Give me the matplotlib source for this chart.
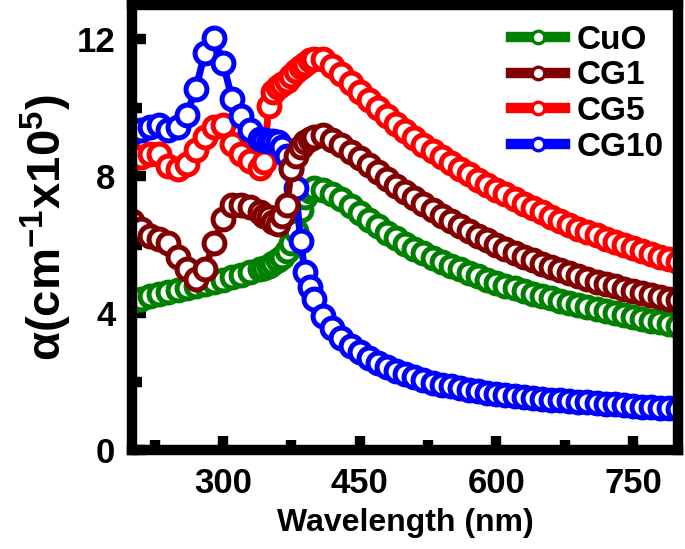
import matplotlib
matplotlib.use("Agg")
import matplotlib.pyplot as plt
from matplotlib.lines import Line2D
from matplotlib.ticker import MultipleLocator

plt.rcParams['font.family'] = ['Liberation Sans', 'DejaVu Sans']
plt.rcParams['font.weight'] = 'bold'
plt.rcParams['mathtext.fontset'] = 'custom'
plt.rcParams['mathtext.rm'] = 'Liberation Sans:bold'
plt.rcParams['mathtext.it'] = 'Liberation Sans:bold'
plt.rcParams['mathtext.bf'] = 'Liberation Sans:bold'

# Data
wavelength = [200, 210, 220, 230, 240, 250, 260, 270, 280, 290, 300, 310, 320, 330, 340,
              345, 350, 355, 360, 365, 370, 375, 380, 385, 390, 395, 400,
              410, 420, 430, 440, 450, 460, 470, 480, 490, 500, 510, 520, 530, 540,
              550, 560, 570, 580, 590, 600, 610, 620, 630, 640, 650, 660, 670, 680,
              690, 700, 710, 720, 730, 740, 750, 760, 770, 780, 790, 800]

cuo = [4.35, 4.42, 4.5, 4.57, 4.63, 4.68, 4.73, 4.79, 4.85, 4.92, 4.98, 5.05, 5.12, 5.2, 5.28,
       5.33, 5.38, 5.46, 5.55, 5.65, 5.82, 6.05, 6.4, 7.0, 7.4, 7.58, 7.65,
       7.6, 7.48, 7.32, 7.13, 6.93, 6.73, 6.53, 6.35, 6.18, 6.02, 5.88, 5.75, 5.62, 5.5,
       5.39, 5.28, 5.18, 5.08, 4.98, 4.89, 4.8, 4.72, 4.64, 4.57, 4.5, 4.43, 4.36, 4.29,
       4.23, 4.17, 4.11, 4.05, 4.0, 3.94, 3.89, 3.83, 3.78, 3.73, 3.68, 3.63]

cg1 = [6.7, 6.45, 6.25, 6.15, 6.05, 5.65, 5.3, 5.0, 5.3, 6.05, 6.75, 7.15, 7.15, 7.1, 6.95,
       6.85, 6.8, 6.65, 6.6, 6.85, 7.15, 8.2, 8.6, 8.85, 9.0, 9.1, 9.15,
       9.2, 9.05, 8.9, 8.72, 8.53, 8.33, 8.12, 7.92, 7.72, 7.53, 7.35, 7.18, 7.01, 6.85,
       6.69, 6.54, 6.4, 6.26, 6.13, 6.0, 5.88, 5.76, 5.65, 5.54, 5.44, 5.34, 5.25, 5.16,
       5.07, 4.99, 4.92, 4.85, 4.78, 4.71, 4.65, 4.59, 4.53, 4.47, 4.42, 4.37]

cg5 = [8.5, 8.55, 8.65, 8.65, 8.3, 8.2, 8.35, 8.75, 9.15, 9.45, 9.5, 8.95, 8.65, 8.45, 8.25,
       8.4, 10.05, 10.45, 10.6, 10.7, 10.78, 10.92, 11.08, 11.18, 11.28, 11.38, 11.43,
       11.43, 11.22, 10.97, 10.72, 10.47, 10.22, 9.98, 9.75, 9.53, 9.32, 9.12, 8.92, 8.74, 8.56,
       8.39, 8.22, 8.06, 7.9, 7.75, 7.61, 7.47, 7.33, 7.19, 7.06, 6.94, 6.82, 6.7, 6.58,
       6.47, 6.37, 6.27, 6.17, 6.07, 5.98, 5.89, 5.81, 5.73, 5.65, 5.57, 5.49]

cg10 = [9.25, 9.35, 9.45, 9.5, 9.35, 9.45, 9.8, 10.55, 11.6, 12.05, 11.3, 10.25, 9.75, 9.35, 9.1,
        9.05, 9.02, 9.02, 9.0, 8.85, 8.6, 8.25, 7.65, 6.1, 5.2, 4.75, 4.42,
        3.92, 3.56, 3.28, 3.05, 2.85, 2.69, 2.54, 2.42, 2.31, 2.21, 2.12, 2.04, 1.97, 1.91,
        1.86, 1.81, 1.76, 1.72, 1.68, 1.64, 1.61, 1.58, 1.55, 1.52, 1.5, 1.47, 1.45, 1.43,
        1.41, 1.39, 1.37, 1.35, 1.33, 1.31, 1.29, 1.27, 1.26, 1.24, 1.22, 1.21]

labels = ['CuO', 'CG1', 'CG5', 'CG10']
colors = ['#008000', '#800000', '#ff0000', '#0000ff']
zorders = [2, 5, 3, 4]

fig = plt.figure(figsize=(6.85, 5.49), dpi=100)
ax = fig.add_axes([0.1927, 0.1803, 0.7978, 0.8106])

for series, lab, col, z in zip([cuo, cg1, cg5, cg10], labels, colors, zorders):
    ax.plot(wavelength, series, color=col, lw=5, marker='o', ms=15, mew=3.6,
            mfc='white', mec=col, zorder=z)

ax.set_xlim(200, 800)
ax.set_ylim(0, 13)
ax.xaxis.set_major_locator(MultipleLocator(150))
ax.xaxis.set_minor_locator(MultipleLocator(75))
ax.yaxis.set_major_locator(MultipleLocator(4))
ax.yaxis.set_minor_locator(MultipleLocator(2))

for s in ax.spines.values():
    s.set_linewidth(7.5)
    s.set_zorder(10)
ax.tick_params(which='both', direction='in', top=False, right=False, width=7.5)
ax.tick_params(which='major', length=10, labelsize=25, pad=12)
ax.tick_params(which='minor', length=7)

ax.set_xlabel('Wavelength (nm)', fontsize=23, fontweight='bold', labelpad=6)
ax.set_ylabel(r'$\alpha$(cm$^{-1}$x10$^{5}$)', fontsize=34, fontweight='bold', labelpad=2)

handles = [Line2D([], [], color=c, lw=7.5, marker='o', ms=9, mew=2.4, mfc='white', mec=c)
           for c in colors]
ax.legend(handles, labels, loc='upper right', bbox_to_anchor=(1.015, 1.008), frameon=False,
          prop={'size': 24, 'weight': 'bold'}, handlelength=1.6, handletextpad=0.35,
          labelspacing=0.14, borderpad=0.2)

fig.savefig('out.png', dpi=100)
